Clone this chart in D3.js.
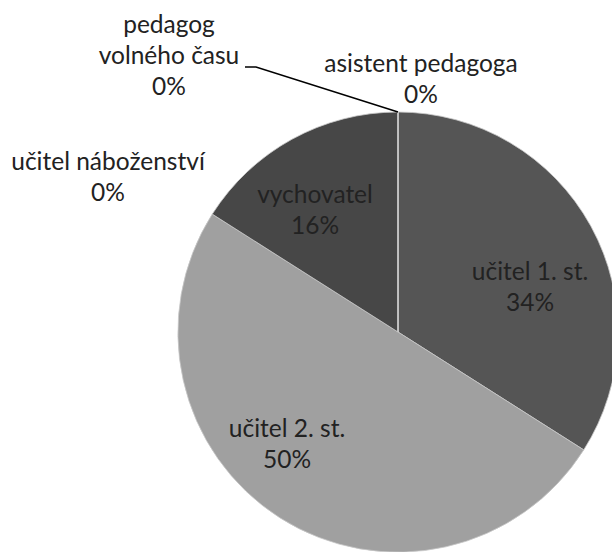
<!DOCTYPE html>
<html>
<head>
<meta charset="utf-8">
<script src="https://cdn.jsdelivr.net/npm/d3@7"></script>
<style>
  body { margin: 0; background: #fff; }
  svg { display: block; }
</style>
</head>
<body>
<div id="chart"></div>
<script>
// data (Excel order, pie starts at 12 o'clock, clockwise)
var categories = ["asistent pedagoga", "učitel 1. st.", "učitel 2. st.", "vychovatel", "učitel náboženství", "pedagog volného času"];
var values = [0, 34, 50, 16, 0, 0];

// label layout (text lines + offset of first baseline from pie centre)
var labelLines = [["asistent pedagoga", "0%"], ["učitel 1. st.", "34%"], ["učitel 2. st.", "50%"],
                  ["vychovatel", "16%"], ["učitel náboženství", "0%"], ["pedagog", "volného času", "0%"]];
var labelPos = [[23, -260], [132, -52], [-111, 105], [-83, -129], [-290, -162], [-229, -299]];
var colors = ["#555555", "#555555", "#a0a0a0", "#474747", "#a0a0a0", "#474747"];

var width = 612, height = 552,
    cx = 398, cy = 332, radius = 220,
    lineH = 31;

var svg = d3.select("#chart")
    .append("svg")
      .attr("width", width)
      .attr("height", height);

var g = svg.append("g")
    .attr("transform", "translate(" + cx + "," + cy + ")");

var pie = d3.pie().sort(null).value(function(d) { return d; });
var arc = d3.arc().innerRadius(0).outerRadius(radius);
var arcs = pie(values);

g.selectAll("path.slice")
  .data(arcs)
  .enter()
  .append("path")
    .attr("class", "slice")
    .attr("d", arc)
    .attr("fill", function(d, i) { return colors[i]; })
    .attr("stroke", "#c8c8c8")
    .attr("stroke-width", 0.8);

// leader line for "pedagog volného času" pointing to the zero slice at the top
var topPoint = [radius * Math.sin(arcs[5].startAngle), -radius * Math.cos(arcs[5].startAngle)];
g.append("polyline")
    .attr("points", [[-153, -265], [-142, -265], topPoint].map(function(p) { return p.join(","); }).join(" "))
    .attr("fill", "none")
    .attr("stroke", "#000")
    .attr("stroke-width", 1.5);

var labels = g.selectAll("text.label")
  .data(arcs)
  .enter()
  .append("text")
    .attr("class", "label")
    .attr("text-anchor", "middle")
    .attr("font-family", "Lato, 'Open Sans', sans-serif")
    .attr("font-size", "24.5px")
    .attr("fill", "#222")
    .attr("transform", function(d, i) { return "translate(" + labelPos[i][0] + "," + labelPos[i][1] + ")"; });

labels.each(function(d, i) {
    var t = d3.select(this);
    labelLines[i].forEach(function(line, j) {
        t.append("tspan")
          .attr("x", 0)
          .attr("y", j * lineH)
          .text(line);
    });
});
</script>
</body>
</html>
